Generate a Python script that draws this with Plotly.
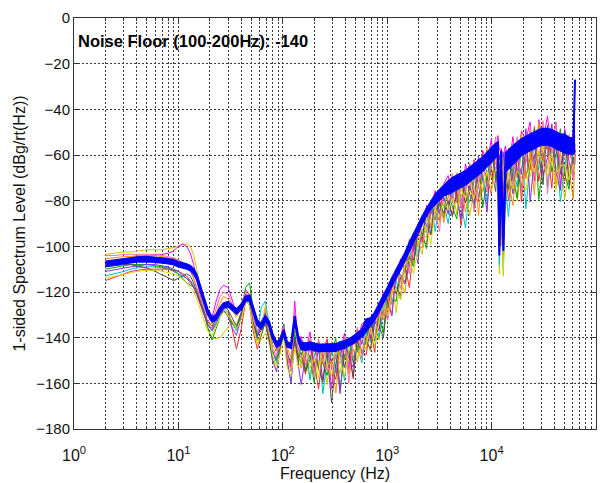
import plotly.graph_objects as go

# ---------------- data ----------------
FREQ_LOW = [2, 2.5, 3, 3.5, 4, 5, 6, 7, 8, 9, 10, 11, 12, 13, 14, 15, 17, 19, 21, 23, 25, 27, 30, 33, 36,
            40, 44, 48, 52, 57, 62, 68, 74, 80, 87, 94, 102, 110, 120, 130, 140]
FREQ_HIGH = [150, 165, 182, 200, 220, 242, 266, 293, 322, 354, 390, 429, 472, 519, 571, 628, 690, 760, 835,
             920, 1010, 1110, 1220, 1345, 1480, 1630, 1790, 1970, 2165, 2380, 2620, 2880, 3170, 3490, 3840,
             4220, 4640, 5100, 5620, 6180, 6800, 7480, 8220, 9050, 9950, 10950, 11500, 11860, 12300, 12950,
             13600, 14500, 16000, 17600, 19300, 21300, 23400, 25700, 28300, 31100, 34300, 37700, 41400,
             45600, 50100, 55200, 60700, 63000]

# thick blue mean curve: upper and lower edge of the band
BLUE_HI_LOW = [-106.6, -106, -105.5, -105, -104.8, -104.6, -104.8, -105.2, -105.5, -106, -106.8, -107.2,
               -107.8, -108.5, -110, -112.5, -121, -127.5, -131, -130, -127, -125, -124.3, -126, -127.5,
               -125.5, -122, -121.5, -126.5, -132.5, -134, -130.5, -133, -138.5, -142, -141, -136.5, -142,
               -142.5, -130.5, -139]
BLUE_LO_LOW = [-108.6, -108, -107.5, -107, -106.8, -106.6, -106.8, -107.2, -107.5, -108, -108.8, -109.2,
               -109.8, -110.5, -112, -114.5, -123, -129.5, -133, -132, -129, -127, -126.3, -128, -129.5,
               -127.5, -124, -123.5, -128.5, -134.5, -136, -132.5, -135, -140.5, -144, -143, -138.5, -144,
               -144.5, -132.5, -141]
BLUE_HI_HIGH = [-142, -142.5, -142, -142.5, -143, -143, -143, -143, -142.8, -142, -141.5, -140.5, -139.5, -138,
                -136.5, -132, -131.5, -129, -125.5, -121.5, -118, -114, -110.5, -107, -103, -98.5, -94.5, -91,
                -87, -83.5, -80.5, -77.5, -75.3, -73.2, -71.5, -70, -69, -68, -67, -65.5, -64, -62.5, -61, -59,
                -57, -55, -54.5, -100, -58, -97, -59, -58, -56, -54.5, -53, -52, -51, -50, -49, -48.5, -48.5,
                -49, -50, -51, -51, -52.5, -52.5, -27]
BLUE_LO_HIGH = [-145, -145.5, -145, -145.5, -146, -146, -146, -146, -145.8, -145, -144.5, -143.5, -142.5, -141,
                -139.5, -137.2, -134.5, -132, -128.5, -124.5, -121, -117, -113.5, -110, -106, -101.5, -97.5,
                -94, -90, -86.5, -83.5, -81.5, -79.7, -77.8, -77, -76, -75, -74, -73, -71.5, -70, -68.5, -67,
                -65, -63, -61, -60.5, -104, -66, -102, -67, -66, -64, -62, -60, -59, -58, -57, -56, -55.5,
                -55.5, -56, -57, -58, -59, -59.5, -59.5, -58]

# individual measurement curves
OLIVE_LOW = [-103.5, -103, -102.5, -102.5, -102, -101.5, -101.5, -101.5, -101, -100.5, -100, -99, -99, -100,
             -104, -110, -124, -136, -140, -140.5, -140, -138, -135, -133, -134, -130, -124, -125, -134, -142,
             -141, -138, -142, -150, -152, -147, -140, -149, -154, -143, -150]
OLIVE_HIGH = [-141.5, -150, -157.5, -143, -152.5, -147.5, -160.5, -141.5, -149.3, -155.5, -144, -151, -139,
              -146.5, -141, -145.5, -132, -136.5, -141, -125, -127.5, -114.5, -129, -112.5, -113.5, -99, -107,
              -97.5, -103.5, -88, -90, -81.5, -89.5, -81.5, -83, -76, -86, -78, -74, -86.5, -75, -67.5, -76,
              -68, -70, -62, -54.5, -112, -70, -113, -71, -76, -66, -80, -65.5, -59.5, -69.5, -60.5, -63.5,
              -55, -72, -60.5, -66.5, -59.5, -79.5, -66, -62, -58]

MAGENTA_LOW = [-108, -107, -106, -105, -104.5, -104, -103.5, -103.5, -103, -102, -100, -99, -100, -103, -108,
               -114, -126, -133, -131, -124, -119, -117, -118, -124, -130, -126, -119, -121, -130, -139, -136,
               -127, -136, -146, -150, -141, -134, -146, -153, -124, -143]
MAGENTA_HIGH = [-139.5, -147, -137.5, -154, -142.5, -149.5, -141.5, -162.5, -143.3, -147.5, -138, -154, -139,
                -141.5, -134, -132.5, -141, -128.5, -131, -120, -131.5, -113.5, -115, -105.5, -111.5, -97,
                -102, -90.5, -98.5, -82, -86, -75.5, -85.5, -72.5, -69, -79, -68, -83, -64, -71.5, -62, -74.5,
                -58, -64, -53, -72, -51.5, -58, -57, -60, -56, -66, -52, -70, -49.5, -53.5, -45.5, -71.5,
                -44.5, -54, -43, -58.5, -45.5, -74.5, -48.5, -60, -50, -52]

CYAN_LOW = [-113, -112, -111, -110, -109.5, -109, -109, -109.5, -110, -111, -112, -113, -114, -115, -117, -119,
            -126, -134, -137, -133, -129, -127, -129, -134, -137, -130, -122, -125, -136, -139, -127, -124, -134,
            -146, -151, -145, -137, -151, -158, -139, -147]
CYAN_HIGH = [-151.5, -142, -158.5, -148, -141.5, -164.5, -150.5, -143.5, -155.3, -146.5, -159, -140, -149,
             -143.5, -151, -137.5, -142, -129.5, -140, -128, -117.5, -125.5, -115, -123.5, -103.5, -107, -94,
             -104.5, -92.5, -94, -80, -93.5, -80.5, -81.5, -90, -77, -70, -81, -92, -73.5, -64, -78.5, -68,
             -81, -62, -66, -62.5, -108, -75, -110, -75, -87, -65, -74, -52.5, -83.5, -63.5, -56.5, -66.5,
             -47, -74, -59.5, -55.5, -80.5, -65.5, -53, -64, -59]

RED_LOW = [-115, -113.5, -112, -111, -110.5, -110, -110, -110, -110, -110.5, -111, -112, -113, -115, -118, -121,
           -128, -134, -136, -131, -127, -125, -128, -137, -145, -136, -124, -126, -137, -145, -139, -133, -141,
           -149, -148, -143, -136, -150, -152, -140, -148]
RED_HIGH = [-148.5, -156, -142.5, -151, -162.5, -146.5, -140.5, -153.5, -158.3, -141.5, -149, -145, -158,
            -138.5, -146, -147.5, -136, -146.5, -126, -130, -130.5, -117.5, -118, -121.5, -108.5, -118, -101,
            -91.5, -97.5, -99, -85, -86.5, -88.5, -73.5, -81, -86, -75, -91, -76, -64.5, -78, -80.5, -66, -70,
            -77, -56, -63.5, -70, -96, -75, -66, -80, -69, -53, -80.5, -61.5, -66.5, -47.5, -71.5, -60, -56,
            -74.5, -49.5, -65.5, -71.5, -58, -65, -61]

GREEN_LOW = [-110, -109, -108.5, -108, -108, -108, -108.5, -109, -109.5, -110.5, -112, -114, -116, -117, -118,
             -120, -127, -135, -141, -136, -131, -128, -130, -134, -136, -129, -118, -116, -128, -141, -139,
             -133, -139, -151, -149, -145, -134, -148, -150, -137, -152]
GREEN_HIGH = [-142.5, -154, -147.5, -160, -141.5, -151.5, -156.5, -146.5, -140.3, -162.5, -148, -141, -151,
              -145.5, -136, -141.5, -131, -141.5, -131, -138, -118.5, -123.5, -124, -106.5, -110.5, -104, -109,
              -90.5, -94.5, -101, -81, -88.5, -81.5, -87.5, -71, -83, -88, -69, -77, -80.5, -71, -61.5, -83,
              -71, -57, -71, -59.5, -62, -60, -65, -79, -59, -70, -79, -54.5, -69.5, -61.5, -48.5, -79.5, -63,
              -49, -67.5, -59.5, -48.5, -68.5, -75, -54, -63]

ORANGE_LOW = [-105.5, -105, -104.5, -104.5, -104, -104, -104, -104.5, -105, -105.5, -106, -107, -108, -110,
              -114, -118, -127, -133, -134, -129, -125, -122, -123, -128, -131, -127, -121, -121, -129, -135,
              -134, -131, -137, -143, -146, -140, -136, -144, -149, -134, -144]
ORANGE_HIGH = [-153.5, -146, -140.5, -157, -150.5, -142.5, -153.5, -149.5, -164.3, -144.5, -140, -156, -145,
               -150.5, -137, -139.5, -146, -131.5, -125, -132, -122.5, -129.5, -110, -115.5, -120.5, -102, -94,
               -100.5, -100.5, -83, -92, -84.5, -78.5, -89.5, -78, -68, -81, -73, -85, -74.5, -63, -86.5, -67,
               -57, -70, -63, -66.5, -64, -100, -62, -59, -72, -82, -63, -50.5, -70.5, -57.5, -77.5, -45.5,
               -61, -66, -46.5, -73.5, -58.5, -50.5, -68, -79, -59]

PURPLE_LOW = [-111, -110, -109.5, -109, -108.5, -108, -108, -108.5, -109, -110, -111, -112.5, -114, -116, -118,
              -121, -128, -134, -137, -134, -130, -128, -131, -136, -139, -131, -121, -123, -133, -140, -133,
              -129, -138, -150, -155, -146, -136, -150, -160, -141, -151]
PURPLE_HIGH = [-160.5, -148, -141.5, -153, -145.5, -158.5, -142.5, -150.5, -147.3, -164.5, -142, -149, -153,
               -136.5, -143, -133.5, -140, -132.5, -137, -121, -124.5, -130.5, -111, -112.5, -115.5, -109, -99,
               -107.5, -86.5, -91, -95, -78.5, -86.5, -78.5, -86, -70, -79, -88, -68, -77.5, -81, -60.5, -71,
               -85, -56, -69, -60.5, -60, -64, -59, -72, -57, -77, -61, -68.5, -48.5, -80.5, -61.5, -49.5,
               -69, -61, -46.5, -67.5, -75.5, -51.5, -63, -70, -55]

GRAY_LOW = [-109, -108.5, -108, -108, -108.5, -109.5, -111, -112.5, -114, -115, -114, -113, -112, -113, -116,
            -120, -127, -133, -135, -132, -128, -126, -128, -132, -135, -129, -122, -124, -134, -139, -137, -134,
            -141, -147, -145, -142, -138, -147, -151, -140, -149]
GRAY_HIGH = [-146.5, -155, -149.5, -143, -153.5, -159.5, -146.5, -168.5, -151.3, -142.5, -153, -146, -157,
             -141.5, -147, -141.5, -145, -133.5, -135, -140, -123.5, -114.5, -121, -113.5, -116.5, -105, -106,
             -94.5, -96.5, -84, -95, -85.5, -80.5, -85.5, -80, -87, -76, -69, -81, -73.5, -83, -68.5, -61, -74,
             -66, -76, -56.5, -66, -62, -104, -69, -75, -56, -67, -74.5, -57.5, -49.5, -65.5, -58.5, -73, -47,
             -62.5, -56.5, -68.5, -49.5, -73, -61, -64]

PINK_LOW = [-104, -104, -103.5, -103.5, -103.5, -103.5, -103.5, -104, -104.5, -105, -106, -107.5, -109, -111,
            -114, -118, -125, -131, -133, -127, -122, -120, -121, -126, -129, -125, -120, -122, -131, -137, -135,
            -131, -138, -145, -148, -142, -135, -147, -155, -128, -146]
PINK_HIGH = [-140.5, -152, -144.5, -157, -140.5, -150.5, -154.5, -142.5, -148.3, -151.5, -140, -160, -142,
             -135.5, -149, -134.5, -137, -140.5, -124, -126, -132.5, -121.5, -110, -118.5, -105.5, -112, -95,
             -96.5, -95.5, -96, -80, -83.5, -93.5, -72.5, -76, -81, -68, -83, -75, -63.5, -85, -72.5, -61, -76,
             -64, -52, -69.5, -102, -66, -68, -58, -69, -73, -52, -76.5, -60.5, -47.5, -69.5, -62.5, -45, -77,
             -56.5, -45.5, -65.5, -61.5, -51, -71, -57]

YELLOW_LOW = [-114, -113, -112, -111.5, -111, -110.5, -110.5, -111, -111.5, -112, -113, -114.5, -116, -118,
              -120, -123, -130, -137, -139, -135, -131, -129, -130, -133, -136, -132, -124, -126, -135, -143,
              -138, -126, -137, -148, -153, -147, -139, -153, -157, -144, -153]
YELLOW_HIGH = [-150.5, -143, -153.5, -149, -157.5, -142.5, -152.5, -156.5, -143.3, -149.5, -157, -145, -139,
               -149.5, -144, -143.5, -135, -143.5, -133, -122, -130.5, -119.5, -119, -123.5, -107.5, -106, -112,
               -101.5, -90.5, -92, -99, -83.5, -86.5, -80.5, -84, -79, -85, -75, -79, -75.5, -79, -71.5, -75,
               -67, -76, -66, -67.5, -96, -68, -111, -74, -68, -75, -67, -69.5, -75.5, -62.5, -67.5, -58.5,
               -64, -69, -59.5, -75.5, -64.5, -64.5, -71, -64, -68]

CURVES = [
    ("#c8c800", OLIVE_LOW, OLIVE_HIGH),
    ("#ff00ff", MAGENTA_LOW, MAGENTA_HIGH),
    ("#00c0c0", CYAN_LOW, CYAN_HIGH),
    ("#ff2a2a", RED_LOW, RED_HIGH),
    ("#00a000", GREEN_LOW, GREEN_HIGH),
    ("#ff8c00", ORANGE_LOW, ORANGE_HIGH),
    ("#8a2be2", PURPLE_LOW, PURPLE_HIGH),
    ("#505050", GRAY_LOW, GRAY_HIGH),
    ("#ff6fa8", PINK_LOW, PINK_HIGH),
    ("#dada00", YELLOW_LOW, YELLOW_HIGH),
]

X_TICKS = [1, 10, 100, 1000, 10000, 100000]
X_TICKTEXT = ["10<sup>0</sup>", "10<sup>1</sup>", "10<sup>2</sup>", "10<sup>3</sup>",
              "10<sup>4</sup>", "10<sup>5</sup>"]

FREQ = FREQ_LOW + FREQ_HIGH
for _, lo, hi in CURVES:
    assert len(lo) == len(FREQ_LOW) and len(hi) == len(FREQ_HIGH), (len(lo), len(hi))
assert len(BLUE_HI_LOW) == len(FREQ_LOW) and len(BLUE_LO_LOW) == len(FREQ_LOW)
assert len(BLUE_HI_HIGH) == len(FREQ_HIGH) and len(BLUE_LO_HIGH) == len(FREQ_HIGH)

fig = go.Figure()
for color, lo, hi in CURVES:
    fig.add_trace(go.Scatter(x=FREQ, y=lo + hi, mode="lines",
                             line=dict(color=color, width=1), showlegend=False,
                             hoverinfo="skip"))

fig.add_trace(go.Scatter(x=FREQ, y=BLUE_LO_LOW + BLUE_LO_HIGH, mode="lines",
                         line=dict(color="#0000ff", width=2), showlegend=False))
fig.add_trace(go.Scatter(x=FREQ, y=BLUE_HI_LOW + BLUE_HI_HIGH, mode="lines",
                         line=dict(color="#0000ff", width=2), fill="tonexty",
                         fillcolor="#0000ff", showlegend=False))

FONT = "Liberation Sans, Arial, sans-serif"
GRID = "#3a3a3a"

fig.update_layout(
    width=604, height=483,
    margin=dict(l=74, r=8, t=18, b=54, autoexpand=False),
    paper_bgcolor="white", plot_bgcolor="white",
    font=dict(family=FONT, size=15, color="#111"),
    xaxis=dict(
        type="log", range=[0, 5], automargin=False,
        tickmode="array", tickvals=X_TICKS, ticktext=X_TICKTEXT,
        tickfont=dict(size=16), ticklabelstandoff=12,
        showgrid=True, gridcolor=GRID, griddash="2px,2px", gridwidth=1,
        minor=dict(dtick="D1", showgrid=True, gridcolor=GRID, griddash="2px,2px",
                   gridwidth=1, ticks="inside", ticklen=3, tickcolor="#333"),
        ticks="inside", ticklen=5, tickcolor="#333",
        showline=True, linecolor="#333", linewidth=1, mirror="allticks",
        zeroline=False,
        title=dict(text="Frequency (Hz)", font=dict(size=16), standoff=4),
    ),
    yaxis=dict(
        range=[-180, 0], dtick=20, tick0=0, automargin=False,
        tickfont=dict(size=15),
        showgrid=True, gridcolor=GRID, griddash="2px,2px", gridwidth=1,
        ticks="inside", ticklen=5, tickcolor="#333",
        showline=True, linecolor="#333", linewidth=1, mirror="allticks",
        zeroline=False,
        title=dict(text="1-sided Spectrum Level (dBg/rt(Hz))", font=dict(size=16), standoff=6),
    ),
    annotations=[dict(
        text="<b>Noise Floor (100-200Hz): -140</b>",
        xref="paper", yref="paper", x=0.004, y=0.944,
        xanchor="left", yanchor="middle", showarrow=False,
        font=dict(family=FONT, size=16.5, color="#000"),
    )],
)

fig.write_html("out.html")
